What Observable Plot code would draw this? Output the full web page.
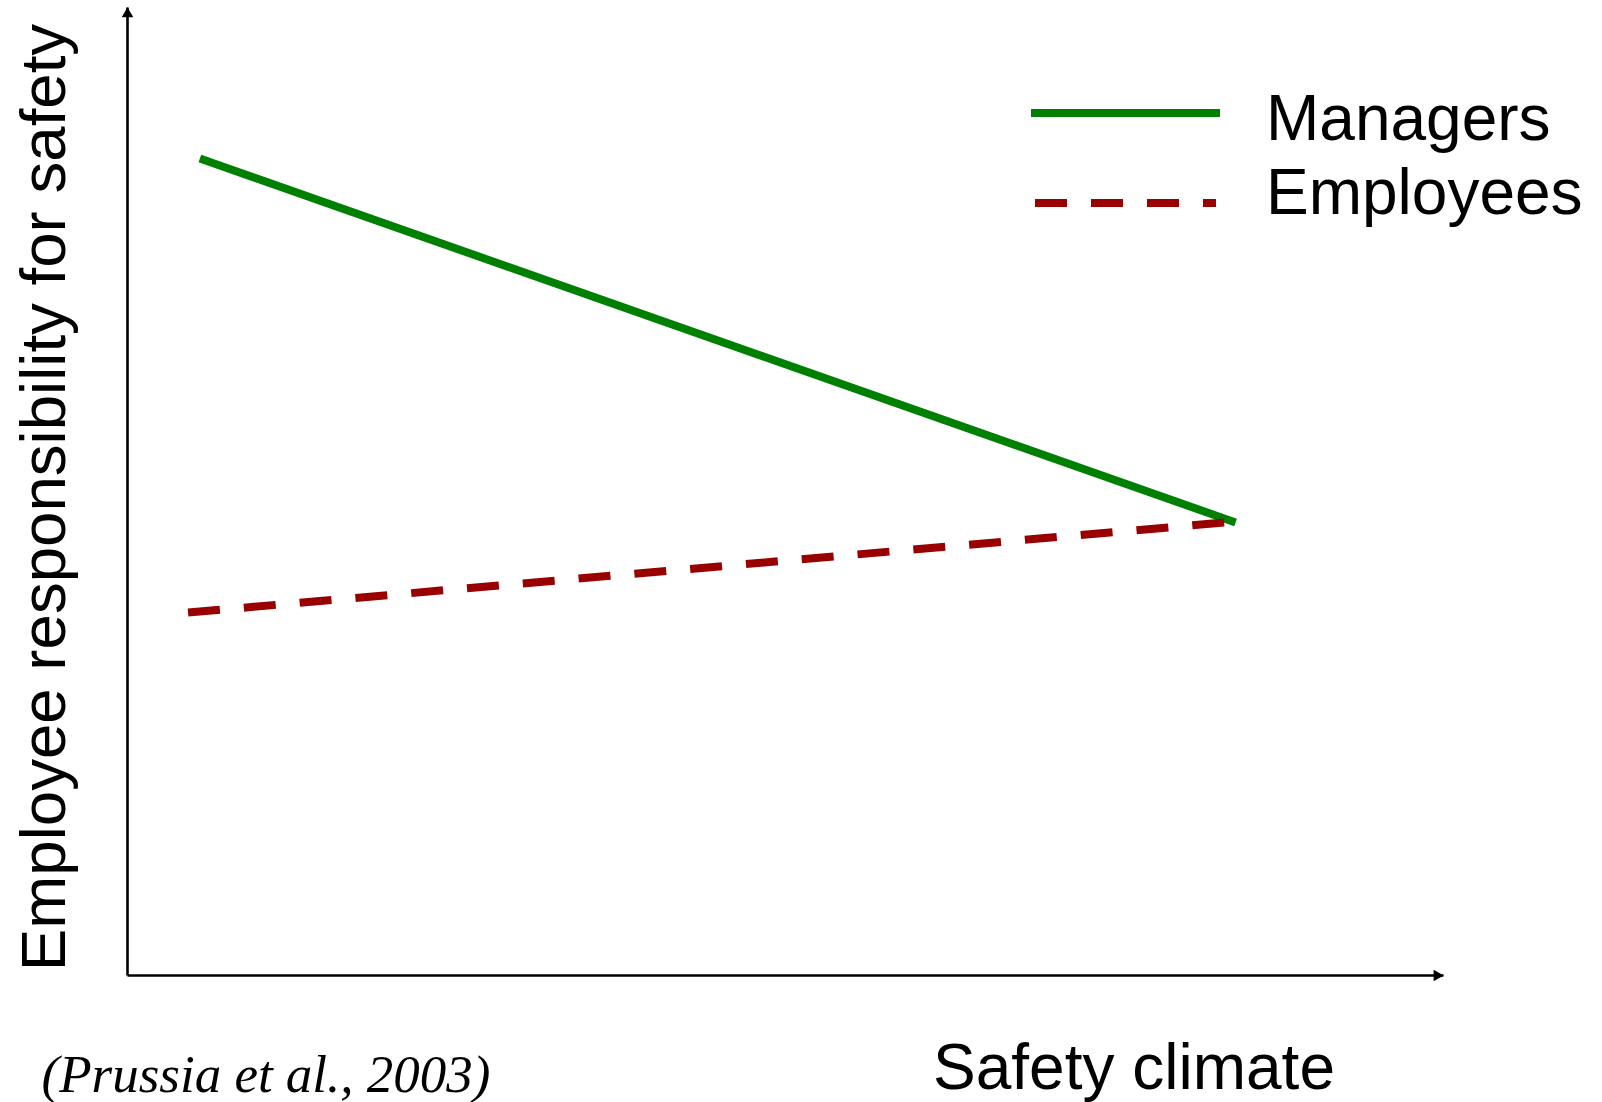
<!DOCTYPE html>
<html><head><meta charset="utf-8">
<script src="https://cdn.jsdelivr.net/npm/d3@7"></script>
<script src="https://cdn.jsdelivr.net/npm/@observablehq/plot@0.6"></script>
<style>
html,body{margin:0;padding:0;background:#fff;overflow:hidden}
#wrap{position:relative;width:1602px;height:1102px}
#wrap svg{display:block}
#legend{position:absolute;left:0;top:0;pointer-events:none}
</style></head><body><div id="wrap"></div>
<script>
// ---- data ----
const seriesNames = ["Managers", "Employees"];
const seriesColors = ["#008000", "#990000"];
const climateLevels = ["Low", "High"];
const managersX = [0.55, 8.42];
const managersY = [8.44, 4.68];
const employeesX = [0.46, 8.34];
const employeesY = [3.75, 4.68];
const axisExtentX = [0, 10];
const axisExtentY = [0, 10];
const xLabel = "Safety climate";
const yLabel = "Employee responsibility for safety";
const sourceNote = "(Prussia et al., 2003)";

const managers = climateLevels.map((c, i) => ({level: c, x: managersX[i], y: managersY[i]}));
const employees = climateLevels.map((c, i) => ({level: c, x: employeesX[i], y: employeesY[i]}));

const sans = "'Liberation Sans', Arial, Helvetica, sans-serif";
const serif = "'Liberation Serif', 'Times New Roman', serif";

const chart = Plot.plot({
  width: 1602,
  height: 1102,
  marginTop: 0, marginRight: 0, marginBottom: 0, marginLeft: 0,
  style: {background: "white", fontFamily: sans, color: "black", overflow: "visible"},
  x: {domain: axisExtentX, range: [127, 1443], axis: null},
  y: {domain: axisExtentY, range: [975, 7], axis: null},
  marks: [
    // axes
    Plot.link([{x1: axisExtentX[0], y1: axisExtentY[0], x2: axisExtentX[0], y2: axisExtentY[1]}],
      {x1: "x1", y1: "y1", x2: "x2", y2: "y2", stroke: "black", strokeWidth: 2.6}),
    Plot.link([{x1: axisExtentX[0], y1: axisExtentY[0], x2: axisExtentX[1], y2: axisExtentY[0]}],
      {x1: "x1", y1: "y1", x2: "x2", y2: "y2", stroke: "black", strokeWidth: 2.6}),
    Plot.dot([{x: axisExtentX[0], y: axisExtentY[1]}],
      {x: "x", y: "y", symbol: "triangle", r: 4.3, fill: "black", stroke: "none", dy: 6.5}),
    Plot.dot([{x: axisExtentX[1], y: axisExtentY[0]}],
      {x: "x", y: "y", symbol: "triangle", r: 4.3, fill: "black", stroke: "none", rotate: 90, dx: -6.5}),
    // series
    Plot.line(managers, {x: "x", y: "y", stroke: seriesColors[0], strokeWidth: 8, strokeLinecap: "butt"}),
    Plot.line(employees, {x: "x", y: "y", stroke: seriesColors[1], strokeWidth: 8, strokeLinecap: "butt", strokeDasharray: "32,24"}),
    // labels
    Plot.text([yLabel], {text: d => d, frameAnchor: "left", dx: 64, dy: -54, rotate: -90,
      textAnchor: "middle", lineAnchor: "bottom", fontSize: 63.6, fill: "black", fontFamily: sans}),
    Plot.text([xLabel], {text: d => d, frameAnchor: "bottom-left", dx: 1133.5, dy: -14,
      textAnchor: "middle", lineAnchor: "bottom", fontSize: 64, fill: "black", fontFamily: sans}),
    Plot.text([sourceNote], {text: d => d, frameAnchor: "bottom-left", dx: 41, dy: -11,
      textAnchor: "start", lineAnchor: "bottom", fontSize: 53, fill: "black", fontFamily: serif, fontStyle: "italic"})
  ]
});
document.getElementById("wrap").appendChild(chart);

// ---- legend (overlay) ----
const lg = d3.select("#wrap").append("svg").attr("id", "legend")
  .attr("width", 1602).attr("height", 1102);
const legendRows = [
  {name: seriesNames[0], color: seriesColors[0], x1: 1031, x2: 1220, ly: 113, ty: 140, dash: null},
  {name: seriesNames[1], color: seriesColors[1], x1: 1035, x2: 1216, ly: 203, ty: 214, dash: "32,24"}
];
legendRows.forEach(r => {
  lg.append("line").attr("x1", r.x1).attr("x2", r.x2).attr("y1", r.ly).attr("y2", r.ly)
    .attr("stroke", r.color).attr("stroke-width", 8).attr("stroke-dasharray", r.dash);
  lg.append("text").attr("x", 1266).attr("y", r.ty).attr("font-family", sans)
    .attr("font-size", 64).attr("fill", "black").text(r.name);
});
</script></body></html>
